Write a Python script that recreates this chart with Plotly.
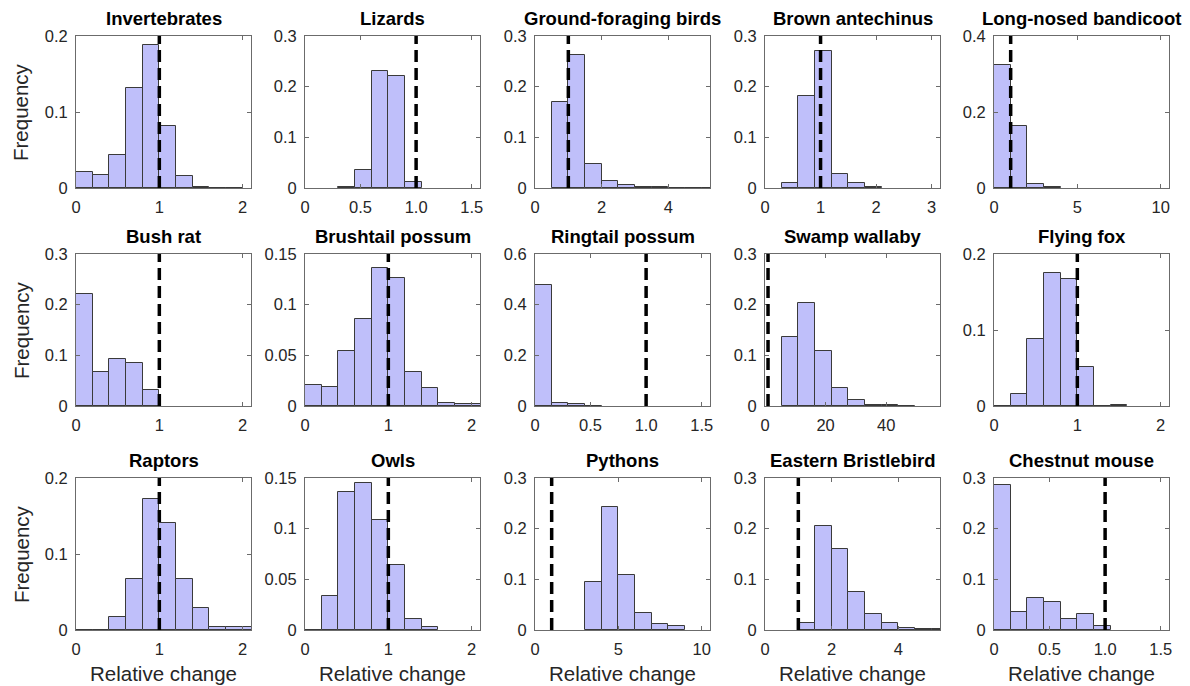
import plotly.graph_objects as go

W, H = 1190, 686

# ---- data -----------------------------------------------------------------
titles = ["Invertebrates", "Lizards", "Ground-foraging birds", "Brown antechinus",
          "Long-nosed bandicoot", "Bush rat", "Brushtail possum", "Ringtail possum",
          "Swamp wallaby", "Flying fox", "Raptors", "Owls", "Pythons",
          "Eastern Bristlebird", "Chestnut mouse"]

# first bin edge and bin width for each histogram
bin_start = [0, 0.3, 0.5, 0.3, 0, 0, 0, 0, 5.5, 0, 0, 0, 3, 1.0, 0]
bin_width = [0.2, 0.15, 0.5, 0.3, 1, 0.2, 0.2, 0.15, 5.5, 0.2, 0.2, 0.2, 1, 0.5, 0.15]

freq_invertebrates = [0.021, 0.017, 0.044, 0.132, 0.188, 0.081, 0.016, 0.0013, 0, 0]
freq_lizards = [0.001, 0.036, 0.231, 0.222, 0.011]
freq_ground_birds = [0.169, 0.262, 0.048, 0.013, 0.006, 0.002, 0.001, 0, 0.0005, 0.0005]
freq_antechinus = [0.0105, 0.181, 0.270, 0.027, 0.0099, 0.002]
freq_bandicoot = [0.323, 0.163, 0.0105, 0.002]
freq_bush_rat = [0.222, 0.068, 0.092, 0.084, 0.031]
freq_brushtail = [0.0205, 0.019, 0.0545, 0.086, 0.136, 0.126, 0.034, 0.018, 0.0033, 0.0023, 0.0023]
freq_ringtail = [0.476, 0.012, 0.009, 0.001]
freq_wallaby = [0.1355, 0.204, 0.108, 0.036, 0.011, 0.0026, 0.001, 0.0005]
freq_flying_fox = [0, 0.0163, 0.088, 0.175, 0.1665, 0.0515, 0, 0.0013]
freq_raptors = [0, 0, 0.0176, 0.0668, 0.172, 0.141, 0.0668, 0.0286, 0.0035, 0.0044, 0.0044]
freq_owls = [0, 0.0336, 0.136, 0.145, 0.109, 0.064, 0.0106, 0.0033]
freq_pythons = [0.0956, 0.2426, 0.109, 0.033, 0.0112, 0.0079]
freq_bristlebird = [0.013, 0.2057, 0.160, 0.0745, 0.031, 0.013, 0.0033, 0.002, 0.002]
freq_chestnut = [0.2855, 0.035, 0.0626, 0.056, 0.021, 0.031, 0.0086]

freqs = [freq_invertebrates, freq_lizards, freq_ground_birds, freq_antechinus,
         freq_bandicoot, freq_bush_rat, freq_brushtail, freq_ringtail, freq_wallaby,
         freq_flying_fox, freq_raptors, freq_owls, freq_pythons, freq_bristlebird,
         freq_chestnut]

reference_value = 1.0  # dashed line: no change

x_max = [2.1, 1.575, 5.25, 3.15, 10.5, 2.1, 2.1, 1.575, 57.75, 2.1, 2.1, 2.1, 10.5, 5.25, 1.575]
y_max = [0.2, 0.3, 0.3, 0.3, 0.4, 0.3, 0.15, 0.6, 0.3, 0.2, 0.2, 0.15, 0.3, 0.3, 0.3]

x_ticks = [[0, 1, 2], [0, 0.5, 1.0, 1.5], [0, 2, 4], [0, 1, 2, 3], [0, 5, 10],
           [0, 1, 2], [0, 1, 2], [0, 0.5, 1.0, 1.5], [0, 20, 40], [0, 1, 2],
           [0, 1, 2], [0, 1, 2], [0, 5, 10], [0, 2, 4], [0, 0.5, 1.0, 1.5]]
x_ticktext = [["0", "1", "2"], ["0", "0.5", "1.0", "1.5"], ["0", "2", "4"], ["0", "1", "2", "3"],
              ["0", "5", "10"], ["0", "1", "2"], ["0", "1", "2"], ["0", "0.5", "1.0", "1.5"],
              ["0", "20", "40"], ["0", "1", "2"], ["0", "1", "2"], ["0", "1", "2"],
              ["0", "5", "10"], ["0", "2", "4"], ["0", "0.5", "1.0", "1.5"]]
y_ticks = [[0, 0.1, 0.2], [0, 0.1, 0.2, 0.3], [0, 0.1, 0.2, 0.3], [0, 0.1, 0.2, 0.3],
           [0, 0.2, 0.4], [0, 0.1, 0.2, 0.3], [0, 0.05, 0.1, 0.15], [0, 0.2, 0.4, 0.6],
           [0, 0.1, 0.2, 0.3], [0, 0.1, 0.2], [0, 0.1, 0.2], [0, 0.05, 0.1, 0.15],
           [0, 0.1, 0.2, 0.3], [0, 0.1, 0.2, 0.3], [0, 0.1, 0.2, 0.3]]

y_label = "Frequency"
x_label = "Relative change"

# ---- layout geometry (pixels) ----------------------------------------------
col_left = [76, 305, 535, 765, 994]
col_w = 175
row_top = [36, 254, 478]
row_h = 152

FONT = "Liberation Sans, Arial, Helvetica, sans-serif"
AX_COLOR = "#6b6b6b"
TXT = "#262626"

fig = go.Figure()
layout = dict(
    width=W, height=H, margin=dict(l=0, r=0, t=0, b=0, pad=0), autosize=False,
    paper_bgcolor="white", plot_bgcolor="white", showlegend=False,
    bargap=0, font=dict(family=FONT, color=TXT),
)
annotations = []
shapes = []

for i in range(15):
    r, c = divmod(i, 5)
    k = "" if i == 0 else str(i + 1)
    xa, ya = "x" + k, "y" + k
    n = len(freqs[i])
    centers = [bin_start[i] + bin_width[i] * (j + 0.5) for j in range(n)]
    fig.add_trace(go.Bar(
        x=centers, y=freqs[i], width=[bin_width[i]] * n,
        marker=dict(color="#bfbffa", line=dict(color="#3a3a3a", width=1)),
        xaxis=xa, yaxis=ya, hoverinfo="x+y",
    ))
    x0 = col_left[c] / W
    x1 = (col_left[c] + col_w) / W
    y1 = 1 - row_top[r] / H
    y0 = 1 - (row_top[r] + row_h) / H
    common = dict(showline=True, mirror="ticks", linecolor=AX_COLOR, linewidth=1,
                  ticks="inside", ticklen=4, tickcolor=AX_COLOR, tickwidth=1,
                  showgrid=False, zeroline=False, automargin=False,
                  tickfont=dict(size=16.5, color=TXT, family=FONT))
    layout["xaxis" + k] = dict(domain=[x0, x1], range=[0, x_max[i]], anchor=ya,
                               tickvals=x_ticks[i], ticktext=x_ticktext[i],
                               ticklabelstandoff=4, **common)
    layout["yaxis" + k] = dict(domain=[y0, y1], range=[0, y_max[i]], anchor=xa,
                               tickvals=y_ticks[i], ticklabelstandoff=4, **common)
    shapes.append(dict(type="line", xref=xa, yref=ya + " domain",
                       x0=reference_value, x1=reference_value, y0=0, y1=1,
                       line=dict(color="black", width=3.5, dash="12px,6px"), layer="above"))
    annotations.append(dict(text="<b>" + titles[i] + "</b>", xref="paper", yref="paper",
                            x=(col_left[c] + col_w / 2) / W, y=1 - (row_top[r] - 18) / H,
                            xanchor="center", yanchor="middle", showarrow=False,
                            font=dict(size=18.5, color="black", family=FONT)))
    if c == 0:
        annotations.append(dict(text=y_label, xref="paper", yref="paper",
                                x=21 / W, y=1 - (row_top[r] + row_h / 2) / H,
                                xanchor="center", yanchor="middle", textangle=-90,
                                showarrow=False, font=dict(size=20.5, color=TXT, family=FONT)))
    if r == 2:
        annotations.append(dict(text=x_label, xref="paper", yref="paper",
                                x=(col_left[c] + col_w / 2) / W, y=1 - 673 / H,
                                xanchor="center", yanchor="middle", showarrow=False,
                                font=dict(size=20.5, color=TXT, family=FONT)))

layout["annotations"] = annotations
layout["shapes"] = shapes
fig.update_layout(**layout)
fig.write_html(
    "out.html",
    config={"displayModeBar": False},
    post_script="document.body.style.margin='0px';document.body.style.overflow='hidden';",
)
